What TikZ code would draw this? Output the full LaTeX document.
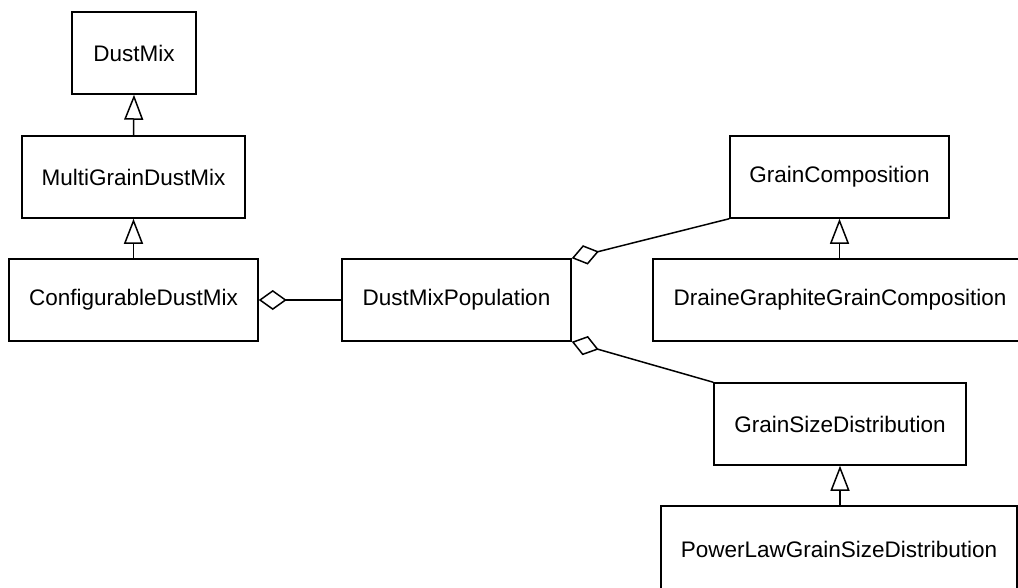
\documentclass[tikz,border=0pt]{standalone}
\usepackage{fontspec}
\setmainfont{Liberation Sans}
\usetikzlibrary{arrows.meta}
\begin{document}
\begin{tikzpicture}[x=1pt,y=-1pt,
  cls/.style={draw, line width=1.5pt, fill=white, minimum height=82pt, inner sep=0pt, font=\fontsize{22.5}{26}\selectfont, anchor=center},
  inh/.style={line width=1.5pt, -{Triangle[open, length=25pt, width=19pt, line width=1.5pt]}},
  agg/.style={line width=1.5pt, {Diamond[open, length=28pt, width=20pt, line width=1.5pt]}-},
]
\useasboundingbox (0,0) rectangle (1018,587);
\clip (0,0) rectangle (1018,587);
\node[cls, minimum width=124pt] (dm) at (134,53) {DustMix};
\node[cls, minimum width=223pt] (mg) at (133.5,177) {MultiGrainDustMix};
\node[cls, minimum width=249pt] (cd) at (133.5,300) {ConfigurableDustMix};
\node[cls, minimum width=229pt] (dp) at (456.5,300) {DustMixPopulation};
\node[cls, minimum width=219pt] (gc) at (839.5,177) {GrainComposition};
\node[cls, minimum width=374pt] (dg) at (840,300) {DraineGraphiteGrainComposition};
\node[cls, minimum width=252pt] (gs) at (840,424) {GrainSizeDistribution};
\node[cls, minimum width=356pt, minimum height=86pt] (pl) at (839,549) {PowerLawGrainSizeDistribution};
\draw[inh] (mg.north) -- (dm.south);
\draw[inh] (cd.north) -- (mg.south);
\draw[inh] (dg.north -| gc.south) -- (gc.south);
\draw[inh] (pl.north -| gs.south) -- (gs.south);
\draw[agg] (cd.east) -- (dp.west);
\draw[agg] (dp.north east) -- (gc.south west);
\draw[agg] (dp.south east) -- (gs.north west);
\end{tikzpicture}
\end{document}
